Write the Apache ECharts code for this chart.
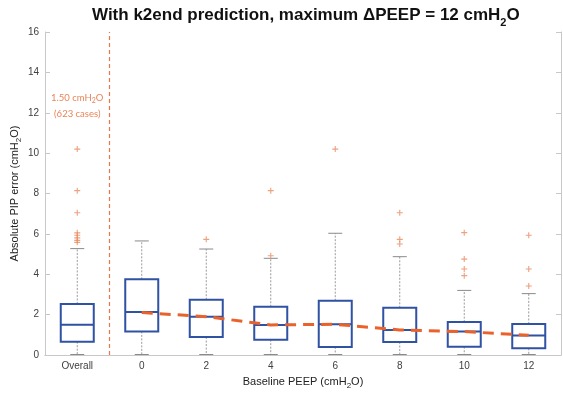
<!DOCTYPE html>
<html>
<head>
<meta charset="utf-8">
<script src="https://cdn.jsdelivr.net/npm/echarts@6/dist/echarts.min.js"></script>
<style>html,body{margin:0;padding:0;background:#fff;}#c{width:563px;height:394px;}</style>
</head>
<body>
<div id="c"></div>
<script>
// ---- data ----
const categories = ['Overall', '0', '2', '4', '6', '8', '10', '12'];
const q1 = [0.66, 1.17, 0.89, 0.76, 0.40, 0.64, 0.41, 0.33];
const medians = [1.50, 2.13, 1.90, 1.49, 1.52, 1.24, 1.16, 0.97];
const q3 = [2.53, 3.75, 2.74, 2.39, 2.69, 2.34, 1.63, 1.54];
const whiskerLow = [0, 0, 0, 0, 0, 0, 0, 0];
const whiskerHigh = [5.27, 5.65, 5.25, 4.79, 6.03, 4.87, 3.20, 3.04];
const outliersOverall = [10.2, 8.14, 7.05, 6.05, 5.93, 5.8, 5.68, 5.58];
const outliers0 = [];
const outliers2 = [5.73];
const outliers4 = [8.14, 4.92];
const outliers6 = [10.2];
const outliers8 = [7.05, 5.73, 5.50];
const outliers10 = [6.06, 4.75, 4.26, 3.93];
const outliers12 = [5.93, 4.26, 3.42];
const trendCategories = ['0', '2', '4', '6', '8', '10', '12'];
const trendValues = [2.10, 1.90, 1.49, 1.52, 1.24, 1.16, 0.98];
const yTicks = [0, 2, 4, 6, 8, 10, 12, 14, 16];
const annotationLines = ['1.50 cmH{s|2}O', '(623 cases)'];
const annotationY = [12.73, 11.94];

// ---- build series data ----
const allOutliers = [outliersOverall, outliers0, outliers2, outliers4, outliers6, outliers8, outliers10, outliers12];
const outlierData = [];
allOutliers.forEach((arr, i) => arr.forEach(v => outlierData.push([i, v])));
const boxData = categories.map((c, i) => [q1[i], q1[i], medians[i], q3[i], q3[i]]);
const whiskerData = categories.map((c, i) => [i, q1[i], q3[i], whiskerLow[i], whiskerHigh[i]]);
const trendData = categories.map(c => {
  const k = trendCategories.indexOf(c);
  return k < 0 ? '-' : trendValues[k];
});

const FONT = 'Liberation Sans';
const axisGray = '#c8c8c8';
const labelGray = '#404040';
const blue = '#2f52a3';
const orange = '#e9622c';
const outlierColor = '#e98a5f';

const chart = echarts.init(document.getElementById('c'), null, {renderer: 'canvas'});
chart.setOption({
  animation: false,
  backgroundColor: '#fff',
  title: {
    text: '{a|With k2end prediction, maximum \u0394PEEP = 12 cmH}{s|2}{a|O}',
    left: 92,
    top: 3,
    padding: 0,
    textStyle: {
      rich: {
        a: {fontFamily: FONT, fontSize: 17, fontWeight: 'bold', color: '#111'},
        s: {fontFamily: FONT, fontSize: 11, fontWeight: 'bold', color: '#111', padding: [14, 0, 0, 0], verticalAlign: 'bottom'}
      }
    }
  },
  grid: {left: 45, right: 2, top: 32, bottom: 39, containLabel: false, outerBoundsMode: 'none'},
  xAxis: [{
    type: 'category',
    data: categories,
    boundaryGap: true,
    name: '{a|Baseline PEEP (cmH}{s|2}{a|O)}',
    nameLocation: 'middle',
    nameGap: 18,
    nameMoveOverlap: false,
    nameTextStyle: {
      rich: {
        a: {fontFamily: FONT, fontSize: 11, color: '#222'},
        s: {fontFamily: FONT, fontSize: 8, color: '#222', padding: [9, 0, 0, 0], verticalAlign: 'bottom'}
      }
    },
    axisLine: {lineStyle: {color: axisGray, width: 1}},
    axisTick: {alignWithLabel: true, inside: true, length: 5, lineStyle: {color: axisGray}},
    axisLabel: {fontFamily: FONT, fontSize: 10, color: labelGray, margin: 6},
    splitLine: {show: false}
  }, {
    type: 'category',
    data: categories,
    position: 'top',
    boundaryGap: true,
    axisLine: {lineStyle: {color: axisGray, width: 1}},
    axisTick: {alignWithLabel: true, inside: true, length: 5, lineStyle: {color: axisGray}},
    axisLabel: {show: false},
    splitLine: {show: false}
  }],
  yAxis: [{
    type: 'value',
    min: yTicks[0],
    max: yTicks[yTicks.length - 1],
    interval: 2,
    name: '{a|Absolute PIP error (cmH}{s|2}{a|O)}',
    nameLocation: 'middle',
    nameGap: 22,
    nameMoveOverlap: false,
    nameTextStyle: {
      rich: {
        a: {fontFamily: FONT, fontSize: 11, color: '#222'},
        s: {fontFamily: FONT, fontSize: 8, color: '#222', padding: [9, 0, 0, 0], verticalAlign: 'bottom'}
      }
    },
    axisLine: {show: true, lineStyle: {color: axisGray, width: 1}},
    axisTick: {show: true, inside: true, length: 5, lineStyle: {color: axisGray}},
    axisLabel: {fontFamily: FONT, fontSize: 10, color: labelGray, margin: 6},
    splitLine: {show: false}
  }, {
    type: 'value',
    position: 'right',
    min: yTicks[0],
    max: yTicks[yTicks.length - 1],
    interval: 2,
    axisLine: {show: true, lineStyle: {color: axisGray, width: 1}},
    axisTick: {show: true, inside: true, length: 5, lineStyle: {color: axisGray}},
    axisLabel: {show: false},
    splitLine: {show: false}
  }],
  series: [
    {
      // whiskers (dotted) and caps
      type: 'custom',
      xAxisIndex: 0, yAxisIndex: 0,
      data: whiskerData,
      encode: {x: 0, y: [1, 2, 3, 4]},
      z: 2,
      renderItem: function (params, api) {
        const x = api.value(0);
        const pQ1 = api.coord([x, api.value(1)]);
        const pQ3 = api.coord([x, api.value(2)]);
        const pLo = api.coord([x, api.value(3)]);
        const pHi = api.coord([x, api.value(4)]);
        const hw = 7;
        const dot = {stroke: '#9a9a9a', lineWidth: 1, lineDash: [2, 1.5]};
        const cap = {stroke: '#8a8a8a', lineWidth: 1};
        return {
          type: 'group',
          children: [
            {type: 'line', shape: {x1: pQ3[0], y1: pQ3[1], x2: pHi[0], y2: pHi[1]}, style: dot},
            {type: 'line', shape: {x1: pQ1[0], y1: pQ1[1], x2: pLo[0], y2: pLo[1]}, style: dot},
            {type: 'line', shape: {x1: pHi[0] - hw, y1: pHi[1], x2: pHi[0] + hw, y2: pHi[1]}, style: cap},
            {type: 'line', shape: {x1: pLo[0] - hw, y1: pLo[1] - 0.5, x2: pLo[0] + hw, y2: pLo[1] - 0.5}, style: cap}
          ]
        };
      }
    },
    {
      type: 'boxplot',
      xAxisIndex: 0, yAxisIndex: 0,
      data: boxData,
      boxWidth: [33, 33],
      z: 3,
      itemStyle: {color: 'rgba(0,0,0,0)', borderColor: blue, borderWidth: 2},
      emphasis: {disabled: true}
    },
    {
      type: 'scatter',
      xAxisIndex: 0, yAxisIndex: 0,
      data: outlierData,
      symbol: 'path://M5,0L5,10M0,5L10,5',
      symbolSize: 6,
      z: 4,
      itemStyle: {color: 'rgba(0,0,0,0)', borderColor: outlierColor, borderWidth: 1.1}
    },
    {
      type: 'line',
      xAxisIndex: 0, yAxisIndex: 0,
      data: trendData,
      showSymbol: false,
      symbol: 'none',
      z: 5,
      lineStyle: {color: orange, width: 3, type: [11, 7]}
    },
    {
      // vertical dashed separator between "Overall" and per-PEEP groups
      type: 'custom',
      xAxisIndex: 0, yAxisIndex: 0,
      data: [[0, yTicks[0], yTicks[yTicks.length - 1]]],
      z: 6,
      renderItem: function (params, api) {
        const a = api.coord([0, api.value(1)]);
        const b = api.coord([1, api.value(2)]);
        const x = (a[0] + b[0]) / 2;
        return {
          type: 'line',
          shape: {x1: x, y1: a[1], x2: x, y2: b[1]},
          style: {stroke: '#e8784c', lineWidth: 1.2, lineDash: [4, 3]}
        };
      }
    },
    {
      // annotation text above Overall box
      type: 'custom',
      xAxisIndex: 0, yAxisIndex: 0,
      data: annotationLines.map((t, i) => [0, annotationY[i], i]),
      z: 7,
      renderItem: function (params, api) {
        const p = api.coord([api.value(0), api.value(1)]);
        const idx = api.value(2);
        return {
          type: 'text',
          x: p[0], y: p[1],
          style: {
            text: annotationLines[idx],
            align: 'center', verticalAlign: 'middle',
            fill: '#e9845a',
            fontFamily: 'Lato', fontSize: 9.5,
            rich: {
              s: {fontFamily: 'Lato', fontSize: 7, fill: '#e9845a', padding: [6, 0, 0, 0], verticalAlign: 'bottom'}
            }
          }
        };
      }
    }
  ]
});
</script>
</body>
</html>
